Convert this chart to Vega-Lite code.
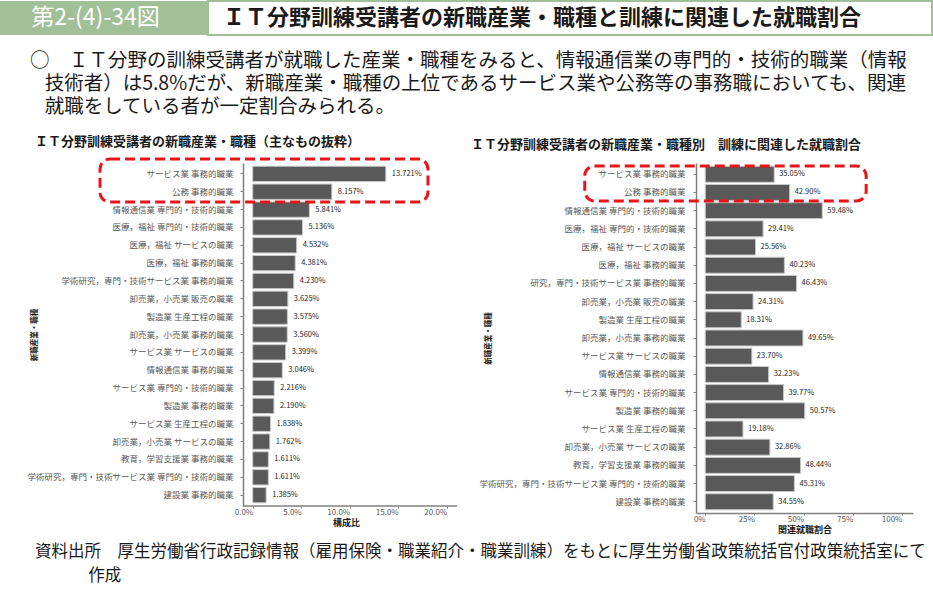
{
  "$schema": "https://vega.github.io/schema/vega-lite/v6.json",
  "padding": 0,
  "background": "white",
  "config": {
    "font": "Noto Sans CJK JP",
    "view": {"stroke": null},
    "axis": {"grid": false, "domainColor": "#808080", "domainWidth": 1.5, "tickColor": "#808080", "tickSize": 3, "labelColor": "#595959", "labelFontSize": 8, "titleFontSize": 8, "titleFontWeight": "bold", "titleColor": "#1a1a1a"}
  },
  "datasets": {
    "left": [
      {"cat": "サービス業 事務的職業", "v": 0.13721},
      {"cat": "公務 事務的職業", "v": 0.08157},
      {"cat": "情報通信業 専門的・技術的職業", "v": 0.05841},
      {"cat": "医療，福祉 専門的・技術的職業", "v": 0.05136},
      {"cat": "医療，福祉 サービスの職業", "v": 0.04532},
      {"cat": "医療，福祉 事務的職業", "v": 0.04381},
      {"cat": "学術研究，専門・技術サービス業 事務的職業", "v": 0.0423},
      {"cat": "卸売業，小売業 販売の職業", "v": 0.03625},
      {"cat": "製造業 生産工程の職業", "v": 0.03575},
      {"cat": "卸売業，小売業 事務的職業", "v": 0.0356},
      {"cat": "サービス業 サービスの職業", "v": 0.03399},
      {"cat": "情報通信業 事務的職業", "v": 0.03046},
      {"cat": "サービス業 専門的・技術的職業", "v": 0.02216},
      {"cat": "製造業 事務的職業", "v": 0.0219},
      {"cat": "サービス業 生産工程の職業", "v": 0.01838},
      {"cat": "卸売業，小売業 サービスの職業", "v": 0.01762},
      {"cat": "教育，学習支援業 事務的職業", "v": 0.01611},
      {"cat": "学術研究，専門・技術サービス業 専門的・技術的職業", "v": 0.01611},
      {"cat": "建設業 事務的職業", "v": 0.01385}
    ],
    "right": [
      {"cat": "サービス業 事務的職業", "v": 0.3505},
      {"cat": "公務 事務的職業", "v": 0.429},
      {"cat": "情報通信業 専門的・技術的職業", "v": 0.5948},
      {"cat": "医療，福祉 専門的・技術的職業", "v": 0.2941},
      {"cat": "医療，福祉 サービスの職業", "v": 0.2556},
      {"cat": "医療，福祉 事務的職業", "v": 0.4023},
      {"cat": "研究，専門・技術サービス業 事務的職業", "v": 0.4643},
      {"cat": "卸売業，小売業 販売の職業", "v": 0.2431},
      {"cat": "製造業 生産工程の職業", "v": 0.1831},
      {"cat": "卸売業，小売業 事務的職業", "v": 0.4965},
      {"cat": "サービス業 サービスの職業", "v": 0.237},
      {"cat": "情報通信業 事務的職業", "v": 0.3223},
      {"cat": "サービス業 専門的・技術的職業", "v": 0.3977},
      {"cat": "製造業 事務的職業", "v": 0.5057},
      {"cat": "サービス業 生産工程の職業", "v": 0.1918},
      {"cat": "卸売業，小売業 サービスの職業", "v": 0.3286},
      {"cat": "教育，学習支援業 事務的職業", "v": 0.4844},
      {"cat": "学術研究，専門・技術サービス業 専門的・技術的職業", "v": 0.4531},
      {"cat": "建設業 事務的職業", "v": 0.3455}
    ]
  },
  "title": {
    "text": ["資料出所　厚生労働省行政記録情報（雇用保険・職業紹介・職業訓練）をもとに厚生労働省政策統括官付政策統括室にて", "\u200b　　　 作成"],
    "orient": "bottom", "anchor": "start", "frame": "bounds", "dx": 35, "offset": 10,
    "fontSize": 16.5, "fontWeight": "normal", "lineHeight": 24, "color": "#1a1a1a"
  },
  "spacing": 18,
  "vconcat": [
    {
      "spacing": 0,
      "title": {
        "text": ["○　ＩＴ分野の訓練受講者が就職した産業・職種をみると、情報通信業の専門的・技術的職業（情報", "\u200b\u2002\u2005技術者）は5.8%だが、新職産業・職種の上位であるサービス業や公務等の事務職においても、関連", "\u200b\u2002\u2005就職をしている者が一定割合みられる。"],
        "orient": "bottom", "anchor": "start", "frame": "bounds", "dx": 30, "offset": 16,
        "fontSize": 19.5, "fontWeight": "normal", "lineHeight": 23, "color": "#1a1a1a"
      },
      "hconcat": [
        {
          "width": 207, "height": 34,
          "view": {"fill": "#a2c098", "stroke": null},
          "data": {"values": [{"t": "第2-(4)-34図"}]},
          "mark": {"type": "text", "color": "white", "fontSize": 23, "dx": -8},
          "encoding": {"text": {"field": "t"}}
        },
        {
          "width": 724, "height": 34,
          "view": {"fill": "white", "stroke": "#a2c098", "strokeWidth": 2},
          "data": {"values": [{"t": "ＩＴ分野訓練受講者の新職産業・職種と訓練に関連した就職割合"}]},
          "mark": {"type": "text", "color": "#1a1a1a", "fontSize": 22, "fontWeight": "bold", "dx": -28},
          "encoding": {"text": {"field": "t"}}
        }
      ]
    },
    {
      "spacing": 13,
      "hconcat": [
        {
          "width": 457, "height": 343,
          "title": {"text": "ＩＴ分野訓練受講者の新職産業・職種（主なもの抜粋）", "anchor": "start", "frame": "bounds", "dx": 35, "fontSize": 13, "fontWeight": "bold", "offset": 9, "color": "#1a1a1a"},
          "resolve": {"scale": {"y": "independent"}},
          "layer": [
            {
              "data": {"name": "left"},
              "layer": [
                {
                  "mark": {"type": "bar", "fill": "#595959", "stroke": "#c8c8c8", "strokeWidth": 1},
                  "encoding": {
                    "y": {"field": "cat", "type": "nominal", "sort": null, "scale": {"paddingInner": 0.14, "paddingOuter": 0.18}, "axis": {"title": "新職産業・職種", "offset": -243, "labelPadding": 7, "titlePadding": 5, "titleFontSize": 7.5, "labelFontSize": 8.5, "labelLimit": 400}},
                    "x": {"field": "v", "type": "quantitative", "scale": {"domain": [-0.2605, 0.2106], "nice": false, "zero": false}, "axis": {"values": [0, 0.05, 0.1, 0.15, 0.2], "format": ".1%", "labelAlign": "right", "labelFlush": false, "domain": false, "tickSize": 2, "title": "構成比", "titleX": 346, "labelPadding": 0, "titlePadding": 2, "titleFontSize": 9}},
                    "x2": {"datum": 0}
                  }
                },
                {
                  "mark": {"type": "text", "align": "left", "dx": 6, "fontSize": 7.5, "color": "#262626"},
                  "encoding": {
                    "y": {"field": "cat", "type": "nominal", "sort": null},
                    "x": {"field": "v", "type": "quantitative", "scale": {"domain": [-0.2605, 0.2106], "nice": false, "zero": false}},
                    "text": {"field": "v", "type": "quantitative", "format": ".3%"}
                  }
                }
              ]
            },
            {
              "data": {"values": [{"note": "x axis line"}]},
              "mark": {"type": "rule", "stroke": "#808080", "strokeWidth": 1.5},
              "encoding": {
                "x": {"datum": -0.01, "type": "quantitative", "scale": {"domain": [-0.2605, 0.2106], "nice": false, "zero": false}},
                "x2": {"datum": 0.2106},
                "y": {"datum": 19, "type": "quantitative", "scale": {"domain": [0, 19], "reverse": true, "nice": false, "zero": false}, "axis": null}
              }
            },
            {
              "data": {"values": [{"note": "highlight"}]},
              "mark": {"type": "rect", "filled": false, "stroke": "#e8141b", "strokeWidth": 3, "strokeDash": [10, 5], "cornerRadius": 10},
              "encoding": {
                "x": {"datum": -0.1574, "type": "quantitative", "scale": {"domain": [-0.2605, 0.2106], "nice": false, "zero": false}},
                "x2": {"datum": 0.1807},
                "y": {"datum": -0.22, "type": "quantitative", "scale": {"domain": [0, 19], "reverse": true, "nice": false, "zero": false}, "axis": null},
                "y2": {"datum": 2.16}
              }
            }
          ]
        },
        {
          "width": 217, "height": 350,
          "title": {"text": "ＩＴ分野訓練受講者の新職産業・職種別　訓練に関連した就職割合", "anchor": "start", "frame": "bounds", "dx": -8, "fontSize": 13, "fontWeight": "bold", "offset": 11, "color": "#1a1a1a"},
          "resolve": {"scale": {"y": "independent"}},
          "layer": [
            {
              "data": {"name": "right"},
              "layer": [
                {
                  "mark": {"type": "bar", "fill": "#595959", "stroke": "#c8c8c8", "strokeWidth": 1},
                  "encoding": {
                    "y": {"field": "cat", "type": "nominal", "sort": null, "scale": {"paddingInner": 0.123, "paddingOuter": 0.18}, "axis": {"title": "新職産業・職種", "labelPadding": 8, "titlePadding": 4, "titleFontSize": 7.5, "labelFontSize": 8.5, "labelLimit": 400}},
                    "x": {"field": "v", "type": "quantitative", "scale": {"domain": [-0.047, 1.056], "nice": false, "zero": false}, "axis": {"values": [0, 0.25, 0.5, 0.75, 1], "format": ".0%", "labelAlign": "right", "labelFlush": false, "tickSize": 2, "title": "関連就職割合", "labelPadding": 0, "titlePadding": 2, "titleFontSize": 9}},
                    "x2": {"datum": 0}
                  }
                },
                {
                  "mark": {"type": "text", "align": "left", "dx": 5, "fontSize": 7.5, "color": "#262626"},
                  "encoding": {
                    "y": {"field": "cat", "type": "nominal", "sort": null},
                    "x": {"field": "v", "type": "quantitative", "scale": {"domain": [-0.047, 1.056], "nice": false, "zero": false}},
                    "text": {"field": "v", "type": "quantitative", "format": ".2%"}
                  }
                }
              ]
            },
            {
              "data": {"values": [{"note": "highlight"}]},
              "mark": {"type": "rect", "filled": false, "stroke": "#e8141b", "strokeWidth": 3, "strokeDash": [10, 5], "cornerRadius": 10},
              "encoding": {
                "x": {"datum": -0.6125, "type": "quantitative", "scale": {"domain": [-0.047, 1.056], "nice": false, "zero": false}},
                "x2": {"datum": 0.818},
                "y": {"datum": 0.16, "type": "quantitative", "scale": {"domain": [0, 19], "reverse": true, "nice": false, "zero": false}, "axis": null},
                "y2": {"datum": 2.06}
              }
            }
          ]
        }
      ]
    }
  ]
}
